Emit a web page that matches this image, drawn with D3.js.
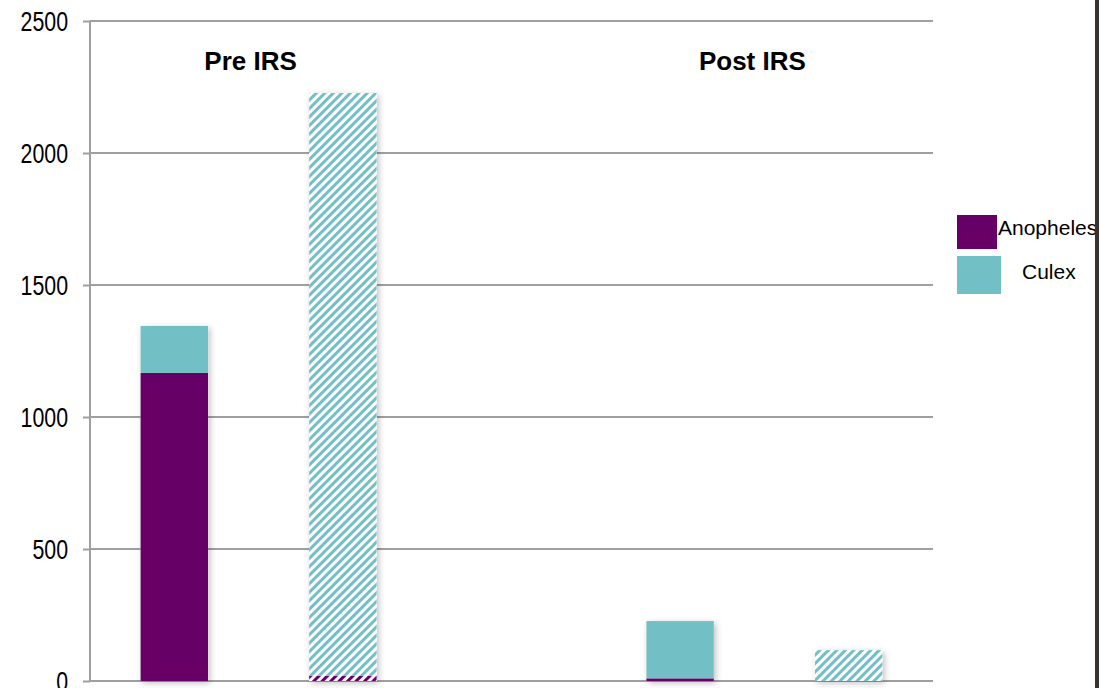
<!DOCTYPE html>
<html lang="en">
<head>
<meta charset="utf-8">
<title>Pre / Post IRS</title>
<script src="https://d3js.org/d3.v7.min.js"></script>
<style>
  html, body { margin: 0; padding: 0; background: #fff; }
  svg { display: block; font-family: "Liberation Sans", Arial, sans-serif; }
</style>
</head>
<body>
<script>
// data
var categories = ["pre1", "pre2", "gap", "post1", "post2"];
var hatched = [false, true, false, false, true];
var anopheles = [1167, 20, null, 10, 0];
var culex = [178, 2207, null, 217, 117];
var yTicks = [0, 500, 1000, 1500, 2000, 2500];
var groupLabels = ["Pre IRS", "Post IRS"];
var seriesNames = ["Anopheles", "Culex"];
var colors = ["#660066", "#72bfc5"];

var w = 1099, h = 688;
// plot edges (note: "top" is a read-only window property, so use other names)
var plotLeft = 90, plotRight = 933, plotTop = 21, plotBottom = 681;

var svg = d3.select("body").append("svg")
  .attr("width", w)
  .attr("height", h);

var defs = svg.append("defs");

// diagonal hatch pattern for each series
colors.forEach(function(c, i) {
  var p = defs.append("pattern")
    .attr("id", "hatch" + i)
    .attr("patternUnits", "userSpaceOnUse")
    .attr("width", 6)
    .attr("height", 6)
    .attr("patternTransform", "rotate(45)");
  p.append("rect").attr("width", 6).attr("height", 6).attr("fill", "#fff");
  p.append("rect").attr("width", 3).attr("height", 6).attr("fill", c);
});

var f = defs.append("filter").attr("id", "shadow")
  .attr("x", "-20%").attr("y", "-20%").attr("width", "140%").attr("height", "140%");
f.append("feDropShadow")
  .attr("dx", 2).attr("dy", 2)
  .attr("stdDeviation", 3)
  .attr("flood-color", "#000")
  .attr("flood-opacity", 0.25);

var x = d3.scaleBand()
  .domain(categories)
  .range([plotLeft, plotRight])
  .paddingInner(0.6)
  .paddingOuter(0.3);

var y = d3.scaleLinear()
  .domain([0, 2500])
  .range([plotBottom, plotTop]);

// gridlines
svg.append("g")
  .selectAll("line")
  .data(yTicks)
  .enter()
  .append("line")
  .attr("x1", plotLeft)
  .attr("x2", plotRight)
  .attr("y1", function(d) { return y(d); })
  .attr("y2", function(d) { return y(d); })
  .attr("stroke", "#9f9f9f")
  .attr("stroke-width", 2);

// y axis
var yAxis = d3.axisLeft(y)
  .tickValues(yTicks)
  .tickSize(7)
  .tickFormat(d3.format("d"));

var ax = svg.append("g")
  .attr("transform", "translate(" + plotLeft + ",0)")
  .call(yAxis);
ax.select(".domain").attr("stroke", "#9f9f9f").attr("stroke-width", 2)
  .attr("d", "M0," + plotTop + "V" + plotBottom);
ax.selectAll(".tick line").attr("stroke", "#9f9f9f").attr("stroke-width", 2);
ax.selectAll(".tick text")
  .attr("fill", "#000")
  .attr("font-size", "27px")
  .attr("font-family", "'Liberation Sans', Arial, sans-serif")
  .attr("x", 0)
  .attr("dy", "0.36em")
  .attr("transform", "translate(-22,0) scale(0.79,1)");

// stacked bars
var stacks = [];
categories.forEach(function(c, i) {
  if (anopheles[i] === null) return;
  stacks.push({cat: c, y0: 0, y1: anopheles[i], s: 0, hatch: hatched[i]});
  stacks.push({cat: c, y0: anopheles[i], y1: anopheles[i] + culex[i], s: 1, hatch: hatched[i]});
});

var bars = svg.append("g");
// white backing with a soft shadow
categories.forEach(function(c, i) {
  if (anopheles[i] === null) return;
  bars.append("rect")
    .attr("x", x(c))
    .attr("y", y(anopheles[i] + culex[i]))
    .attr("width", x.bandwidth())
    .attr("height", y(0) - y(anopheles[i] + culex[i]))
    .attr("fill", "#fff")
    .attr("filter", "url(#shadow)");
});

bars.selectAll("rect.seg")
  .data(stacks.filter(function(d) { return d.y1 > d.y0; }))
  .enter()
  .append("rect")
  .attr("class", "seg")
  .attr("x", function(d) { return x(d.cat); })
  .attr("y", function(d) { return y(d.y1); })
  .attr("width", x.bandwidth())
  .attr("height", function(d) { return y(d.y0) - y(d.y1); })
  .attr("fill", function(d) { return d.hatch ? "url(#hatch" + d.s + ")" : colors[d.s]; });

// group labels
var groupPairs = [["pre1", "pre2"], ["post1", "post2"]];
svg.selectAll("text.group")
  .data(groupLabels)
  .enter()
  .append("text")
  .attr("class", "group")
  .attr("x", function(d, i) {
    var a = x(groupPairs[i][0]), b = x(groupPairs[i][1]);
    return (a + b) / 2 + x.bandwidth() / 2 - 8 - i * 4;
  })
  .attr("y", 70)
  .attr("text-anchor", "middle")
  .attr("font-size", "26px")
  .attr("font-weight", "bold")
  .attr("fill", "#000")
  .text(function(d) { return d; });

// legend
var legend = svg.append("g");
var sw = [[957, 215, 40, 34], [957, 256, 44, 38]];
legend.selectAll("rect")
  .data(seriesNames)
  .enter()
  .append("rect")
  .attr("x", function(d, i) { return sw[i][0]; })
  .attr("y", function(d, i) { return sw[i][1]; })
  .attr("width", function(d, i) { return sw[i][2]; })
  .attr("height", function(d, i) { return sw[i][3]; })
  .attr("fill", function(d, i) { return colors[i]; });
legend.selectAll("text")
  .data(seriesNames)
  .enter()
  .append("text")
  .attr("x", function(d, i) { return i === 0 ? 998 : 1022; })
  .attr("y", function(d, i) { return i === 0 ? 235 : 279; })
  .attr("font-size", "21px")
  .attr("fill", "#000")
  .text(function(d) { return d; });

// dark edge on the right of the original screenshot
svg.append("rect")
  .attr("x", 1095)
  .attr("y", 0)
  .attr("width", 4)
  .attr("height", h)
  .attr("fill", "#3a322d");
</script>
</body>
</html>
